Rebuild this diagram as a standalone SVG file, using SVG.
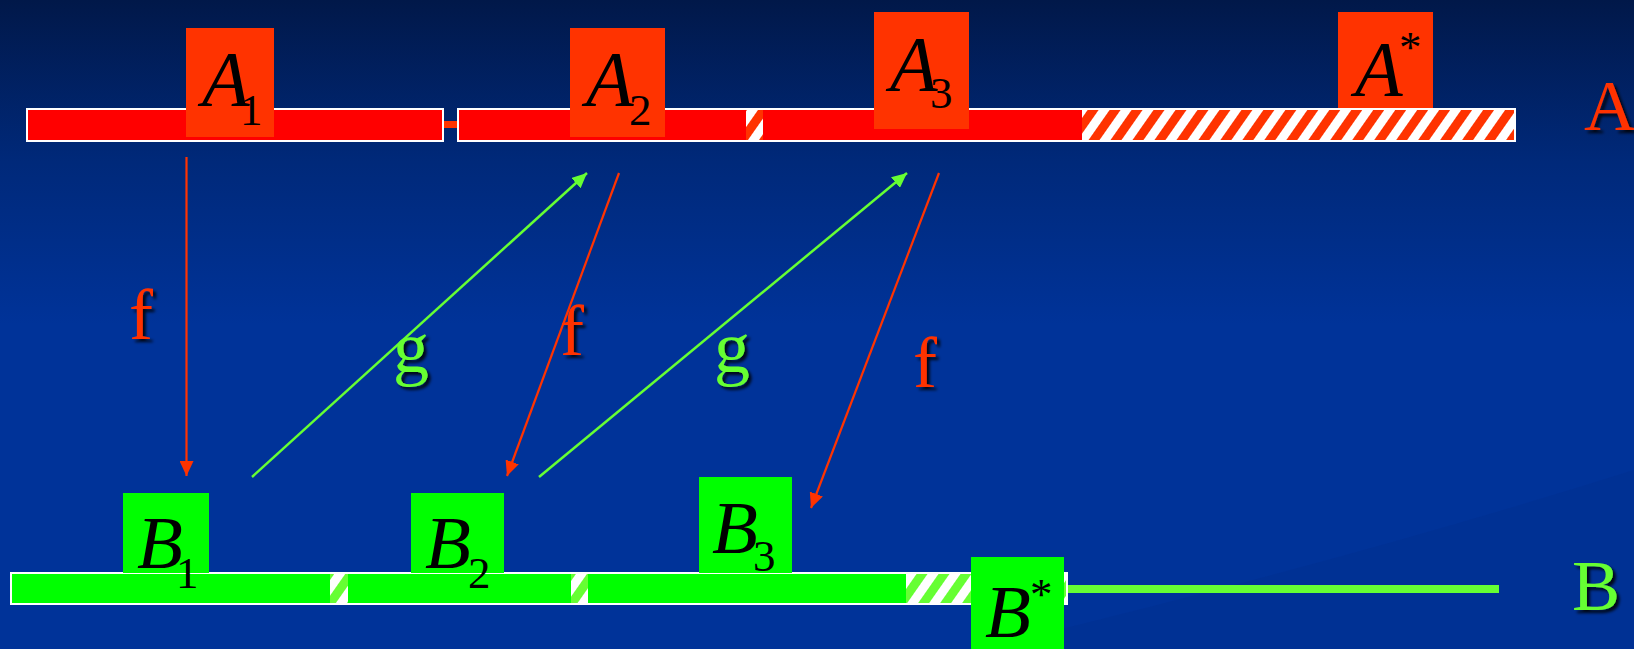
<svg xmlns="http://www.w3.org/2000/svg" width="1634" height="649" viewBox="0 0 1634 649">
<defs>
  <linearGradient id="bg" x1="0" y1="0" x2="0" y2="1">
    <stop offset="0" stop-color="#011849"/>
    <stop offset="0.25" stop-color="#00297A"/>
    <stop offset="0.5" stop-color="#003399"/>
    <stop offset="1" stop-color="#003399"/>
  </linearGradient>
  <pattern id="hatchR" width="18" height="18" patternUnits="userSpaceOnUse" patternTransform="rotate(35)">
    <rect width="18" height="18" fill="#ffffff"/>
    <rect width="9" height="18" fill="#FF3300"/>
  </pattern>
  <pattern id="hatchG" width="18" height="18" patternUnits="userSpaceOnUse" patternTransform="rotate(35)">
    <rect width="18" height="18" fill="#ffffff"/>
    <rect width="9" height="18" fill="#66FF33"/>
  </pattern>
  <marker id="arrR" viewBox="0 0 15 14" refX="15" refY="7" markerWidth="15" markerHeight="14" markerUnits="userSpaceOnUse" orient="auto">
    <path d="M0,0 L15,7 L0,14 z" fill="#FF3300"/>
  </marker>
  <marker id="arrG" viewBox="0 0 15 14" refX="15" refY="7" markerWidth="15" markerHeight="14" markerUnits="userSpaceOnUse" orient="auto">
    <path d="M0,0 L15,7 L0,14 z" fill="#66FF33"/>
  </marker>
  <filter id="shadow" x="-20%" y="-20%" width="150%" height="150%">
    <feDropShadow dx="3" dy="3" stdDeviation="1.5" flood-color="#000000" flood-opacity="0.85"/>
  </filter>
  <style>
    .bar { stroke: #ffffff; stroke-width: 2; }
    .boxA { fill: #FF3300; }
    .boxB { fill: #00FF00; }
    .main { font-family: "Liberation Serif", "Times New Roman", serif; font-style: italic; fill: #000000; }
    .sub { font-size: 45px; font-style: normal; }
    .lblR { font-family: "Liberation Serif", "Times New Roman", serif; font-size: 72px; fill: #FF3300; filter: url(#shadow); }
    .lblG { font-family: "Liberation Serif", "Times New Roman", serif; font-size: 72px; fill: #66FF33; filter: url(#shadow); }
    .fline { stroke: #FF3300; stroke-width: 2.2; fill: none; }
    .gline { stroke: #66FF33; stroke-width: 2.5; fill: none; }
  </style>
</defs>
<rect x="0" y="0" width="1634" height="649" fill="url(#bg)"/>
<path d="M980,649 Q1350,560 1634,470 L1634,649 Z" fill="#00308F" opacity="0.5"/>

<g id="barA">
  <rect class="bar" x="27" y="109" width="416" height="32" fill="#FF0000"/>
  <rect x="444" y="121" width="14" height="7" fill="#FF3300"/>
  <rect class="bar" x="458" y="109" width="1057" height="32" fill="url(#hatchR)"/>
  <rect x="459" y="110" width="287" height="30" fill="#FF0000"/>
  <rect x="763" y="110" width="319" height="30" fill="#FF0000"/>
</g>

<g id="barB">
  <rect class="bar" x="11" y="573" width="1056" height="31" fill="url(#hatchG)"/>
  <rect x="12" y="574" width="318" height="29" fill="#00FF00"/>
  <rect x="348" y="574" width="223" height="29" fill="#00FF00"/>
  <rect x="588" y="574" width="318" height="29" fill="#00FF00"/>
  <rect x="1068" y="585" width="431" height="8" fill="#66FF33"/>
</g>

<g id="A1">
  <rect class="boxA" x="186" y="28" width="88" height="109"/>
  <text class="main" x="202" y="105" font-size="78">A<tspan class="sub" dx="-9.7" dy="20">1</tspan></text>
</g>
<g id="A2">
  <rect class="boxA" x="570" y="28" width="95" height="109"/>
  <text class="main" x="586" y="105" font-size="78">A<tspan class="sub" dx="-4.7" dy="20">2</tspan></text>
</g>
<g id="A3">
  <rect class="boxA" x="874" y="12" width="95" height="117"/>
  <text class="main" x="890" y="90" font-size="78">A<tspan class="sub" dx="-7.7" dy="18">3</tspan></text>
</g>
<g id="Astar">
  <rect class="boxA" x="1338" y="12" width="95" height="96"/>
  <text class="main" x="1355" y="95" font-size="78">A<tspan class="sub" dx="-3.7" dy="-33">*</tspan></text>
</g>

<g id="B1">
  <rect class="boxB" x="123" y="493" width="86" height="80"/>
  <text class="main" x="137" y="568" font-size="75">B<tspan class="sub" dx="-6.8" dy="20">1</tspan></text>
</g>
<g id="B2">
  <rect class="boxB" x="411" y="493" width="93" height="80"/>
  <text class="main" x="425" y="568" font-size="75">B<tspan class="sub" dx="-2.8" dy="20">2</tspan></text>
</g>
<g id="B3">
  <rect class="boxB" x="699" y="477" width="93" height="96"/>
  <text class="main" x="712" y="553" font-size="75">B<tspan class="sub" dx="-4.8" dy="18">3</tspan></text>
</g>
<g id="Bstar">
  <rect class="boxB" x="971" y="557" width="93" height="92"/>
  <text class="main" x="985" y="637" font-size="75">B<tspan class="sub" dx="-0.8" dy="-28">*</tspan></text>
</g>

<g id="labelA"><text class="lblR" x="1584" y="130" font-size="74">A</text></g>
<g id="labelB"><text class="lblG" x="1572" y="610">B</text></g>

<g id="connectors">
  <line class="fline" x1="186.5" y1="157" x2="186.5" y2="476" marker-end="url(#arrR)"/>
  <line class="gline" x1="252" y1="477" x2="587" y2="173" marker-end="url(#arrG)"/>
  <line class="fline" x1="619" y1="173" x2="507" y2="476" marker-end="url(#arrR)"/>
  <line class="gline" x1="539" y1="477" x2="907" y2="173" marker-end="url(#arrG)"/>
  <line class="fline" x1="939" y1="173" x2="811" y2="508" marker-end="url(#arrR)"/>
  <text class="lblR" x="129" y="339">f</text>
  <text class="lblG" x="393" y="372">g</text>
  <text class="lblR" x="560" y="355">f</text>
  <text class="lblG" x="714" y="372">g</text>
  <text class="lblR" x="913" y="387">f</text>
</g>
</svg>
